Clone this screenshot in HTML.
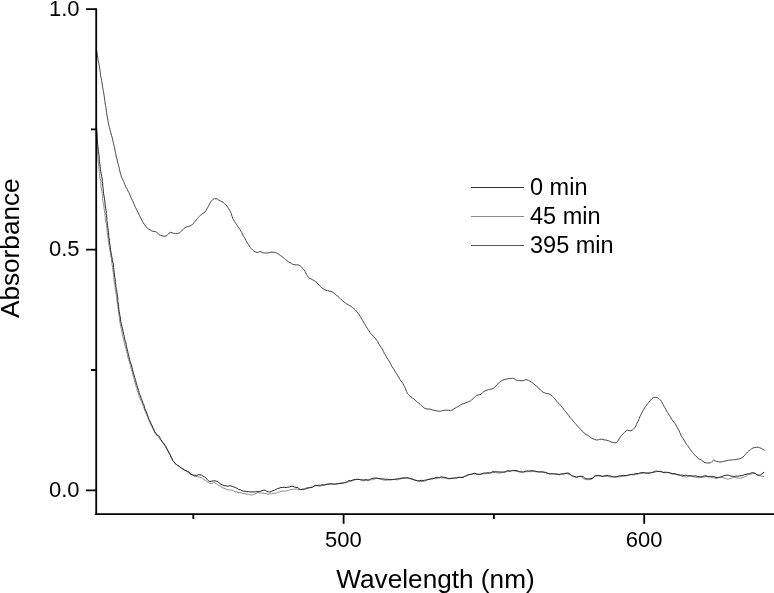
<!DOCTYPE html>
<html><head><meta charset="utf-8"><title>Absorbance vs Wavelength</title>
<style>
html,body{margin:0;padding:0;background:#fff;}
body{width:774px;height:593px;overflow:hidden;position:relative;}
svg{display:block;position:absolute;left:0;top:0;}
text{font-family:"Liberation Sans",Arial,Helvetica,sans-serif;fill:#000;}
.tick{font-size:22px;}
.title{font-size:26.2px;}
.leg{font-size:23.5px;}
</style></head><body>
<svg width="774" height="593" viewBox="0 0 774 593">
<rect width="774" height="593" fill="#fff"/>
<g fill="none" stroke-linejoin="round" stroke-linecap="butt" stroke-width="1">
<path d="M96.00,126.00 L96.06,125.92 L96.40,127.58 L96.48,129.28 L96.58,130.97 L96.59,132.67 L96.85,134.37 L96.91,136.07 L97.01,137.76 L97.12,139.46 L97.18,141.16 L97.22,142.86 L97.25,144.56 L97.36,146.26 L97.32,147.96 L97.45,149.65 L97.85,151.34 L97.62,153.05 L97.75,154.74 L97.91,156.44 L97.94,158.14 L98.05,159.83 L98.19,161.53 L98.45,163.21 L98.55,164.91 L98.88,166.58 L98.79,168.30 L99.16,169.97 L99.32,171.67 L99.47,173.36 L99.63,175.05 L99.86,176.74 L100.00,178.43 L100.66,180.06 L100.70,181.77 L100.83,183.47 L101.03,185.16 L101.01,186.87 L101.40,188.54 L101.60,190.22 L102.04,191.88 L102.10,193.59 L102.46,195.25 L102.75,196.93 L102.53,198.68 L102.74,200.36 L103.04,202.04 L103.28,203.72 L103.71,205.38 L103.99,207.05 L104.07,208.76 L104.53,210.41 L104.59,212.12 L104.98,213.78 L105.06,215.49 L105.37,217.16 L105.28,218.89 L105.45,220.58 L105.84,222.24 L106.32,223.89 L106.54,225.58 L106.68,227.28 L106.98,228.95 L107.09,230.65 L107.18,232.36 L107.47,234.03 L107.78,235.71 L107.90,237.41 L108.22,239.08 L108.35,240.78 L108.69,242.44 L108.73,244.16 L109.12,245.82 L109.53,247.47 L109.72,249.16 L110.04,250.84 L110.37,252.51 L110.56,254.20 L110.68,255.90 L111.24,257.53 L111.38,259.23 L111.60,260.92 L111.83,262.60 L111.96,264.30 L112.41,265.95 L112.51,267.66 L112.79,269.33 L113.00,271.02 L113.27,272.70 L113.53,274.38 L113.80,276.06 L113.93,277.76 L113.91,279.48 L114.14,281.16 L114.39,282.84 L114.67,284.52 L115.06,286.18 L115.23,287.87 L115.26,289.59 L115.81,291.23 L115.95,292.92 L116.13,294.62 L116.44,296.29 L116.66,297.98 L116.82,299.67 L116.92,301.37 L117.21,303.05 L117.43,304.73 L117.82,306.39 L118.05,308.08 L118.34,309.75 L118.57,311.44 L118.86,313.11 L118.97,314.81 L119.03,316.52 L119.37,318.19 L119.60,319.87 L119.81,321.56 L120.13,323.23 L120.33,324.92 L120.68,326.59 L121.23,328.22 L121.66,329.86 L121.82,331.56 L122.11,333.24 L122.37,334.93 L122.82,336.57 L123.24,338.22 L123.89,339.81 L124.00,341.53 L124.57,343.14 L124.79,344.84 L125.40,346.44 L125.85,348.08 L126.17,349.75 L126.61,351.39 L127.09,353.03 L127.31,354.72 L127.67,356.39 L128.10,358.03 L128.64,359.65 L129.19,361.26 L129.65,362.90 L130.10,364.53 L130.50,366.19 L130.81,367.87 L131.33,369.48 L131.92,371.08 L132.42,372.71 L132.64,374.41 L133.14,376.04 L133.62,377.67 L134.08,379.31 L134.49,380.96 L134.98,382.59 L135.29,384.26 L135.73,385.90 L136.72,387.39 L137.09,389.05 L137.09,390.84 L138.00,392.33 L138.53,393.94 L138.95,395.60 L139.61,397.17 L140.04,398.82 L140.95,400.30 L141.71,401.82 L142.24,403.44 L142.89,405.01 L143.59,406.56 L144.00,408.23 L144.57,409.83 L145.22,411.40 L145.93,412.95 L146.51,414.55 L147.19,416.11 L147.97,417.62 L148.50,419.25 L149.12,420.83 L149.81,422.38 L150.41,423.98 L151.36,425.41 L152.06,426.96 L152.87,428.45 L153.41,430.10 L154.28,431.56 L154.96,433.16 L155.92,434.59 L157.24,435.74 L158.53,436.89 L159.41,438.36 L160.47,439.69 L161.47,441.06 L162.62,442.33 L163.42,443.85 L164.38,445.25 L165.29,446.69 L166.21,448.11 L167.31,449.44 L168.46,450.74 L169.08,452.35 L169.82,453.89 L170.53,455.43 L171.04,457.08 L171.87,458.56 L172.46,460.20 L173.50,461.58 L174.55,462.95 L175.78,464.15 L177.08,465.28 L178.75,465.87 L179.94,467.13 L181.39,468.04 L182.99,468.68 L184.32,469.76 L185.76,470.68 L187.07,471.78 L188.45,472.71 L189.85,473.67 L191.55,474.20 L192.76,475.52 L194.41,476.30 L196.12,476.54 L197.81,476.69 L199.34,477.22 L201.05,477.45 L202.38,478.50 L203.77,479.46 L205.29,480.29 L206.54,481.43 L208.00,482.33 L209.58,483.21 L211.31,483.43 L213.07,482.88 L214.89,482.82 L216.41,483.79 L217.82,484.80 L219.28,485.71 L220.75,486.53 L222.05,487.59 L223.61,488.14 L225.18,488.67 L226.72,489.46 L228.38,489.82 L230.10,489.93 L231.81,490.13 L233.42,490.70 L234.91,491.70 L236.64,491.82 L238.17,492.68 L239.93,492.65 L241.60,493.00 L243.21,493.60 L244.93,493.66 L246.58,494.07 L248.32,494.07 L249.92,494.71 L251.62,495.13 L253.29,494.61 L254.92,494.13 L256.44,493.35 L257.90,492.28 L259.82,493.05 L261.40,493.05 L263.08,493.32 L264.75,493.51 L266.45,493.69 L268.07,494.49 L269.86,493.74 L271.54,493.69 L273.21,493.46 L274.88,493.21 L276.60,493.09 L278.19,492.43 L279.76,491.72 L281.40,491.23 L283.14,491.20 L284.86,491.07 L286.53,490.73 L288.24,490.54 L289.77,489.70 L291.45,489.54 L293.09,489.35 L294.77,489.11 L296.48,489.00 L298.12,489.56 L299.84,489.47 L301.52,489.41 L303.16,489.00 L304.95,489.30 L306.57,488.75 L308.17,488.13 L309.79,487.62 L311.41,487.11 L313.08,486.74 L314.68,485.95 L316.38,485.66 L318.12,485.96 L319.85,486.22 L321.49,485.63 L323.17,485.42 L324.79,484.89 L326.35,483.97 L328.10,483.93 L329.83,483.71 L331.56,484.24 L333.26,484.26 L334.95,484.31 L336.60,483.79 L338.30,483.79 L339.86,483.02 L341.60,483.01 L343.37,483.12 L344.91,482.28 L346.64,482.19 L348.37,482.08 L349.95,481.39 L351.66,481.17 L353.24,480.53 L354.83,479.91 L356.53,479.22 L358.31,479.39 L360.00,479.55 L361.57,480.73 L363.27,480.73 L364.98,480.63 L366.67,480.20 L368.41,480.72 L369.99,479.89 L371.75,479.81 L373.40,479.38 L374.93,478.78 L376.59,478.35 L378.29,478.54 L380.03,478.55 L381.61,479.27 L383.24,479.99 L384.94,480.15 L386.66,480.31 L388.37,479.89 L390.08,479.92 L391.75,479.48 L393.44,479.30 L395.16,479.44 L396.92,479.91 L398.57,479.42 L400.25,479.13 L401.91,478.41 L403.62,478.60 L405.33,478.39 L407.06,478.19 L408.80,478.18 L410.46,478.82 L412.13,479.22 L413.71,479.93 L415.39,480.18 L417.06,480.53 L418.65,481.29 L420.37,481.52 L422.15,481.47 L423.90,481.39 L425.52,480.74 L427.05,479.86 L428.66,479.27 L430.30,478.65 L432.05,478.78 L433.74,478.57 L435.45,478.63 L437.18,478.62 L438.78,477.94 L440.46,477.65 L442.15,477.86 L443.79,477.89 L445.38,478.46 L447.08,478.69 L448.80,478.70 L450.47,478.81 L452.06,478.22 L453.82,478.41 L455.46,477.97 L457.22,478.13 L458.82,477.38 L460.52,477.24 L462.21,477.07 L463.86,476.64 L465.54,476.36 L467.11,475.65 L468.68,474.95 L470.29,474.30 L472.01,474.04 L473.74,473.82 L475.47,474.15 L477.17,474.35 L478.86,474.48 L480.49,474.44 L482.09,473.87 L483.78,473.78 L485.51,473.73 L487.12,473.07 L488.83,472.94 L490.57,473.03 L492.23,472.60 L493.93,472.56 L495.62,472.31 L497.35,472.97 L499.05,472.98 L500.76,472.89 L502.43,472.22 L504.14,472.14 L505.81,471.75 L507.50,471.58 L509.16,471.14 L510.85,471.00 L512.51,470.54 L514.23,470.66 L515.81,471.33 L517.60,471.14 L519.32,471.28 L520.89,471.92 L522.58,472.27 L524.27,471.95 L525.98,471.90 L527.67,471.70 L529.36,471.57 L531.04,471.74 L532.72,471.32 L534.40,471.60 L536.09,471.72 L537.81,471.66 L539.47,472.10 L541.21,471.94 L542.93,471.92 L544.53,472.74 L546.26,472.66 L547.85,473.52 L549.51,473.90 L551.25,473.77 L552.97,473.74 L554.73,473.46 L556.36,474.05 L558.10,474.07 L559.67,475.02 L561.28,474.31 L562.96,474.11 L564.61,473.18 L566.35,473.41 L568.06,474.09 L569.74,474.35 L571.32,475.03 L572.80,475.81 L574.23,476.76 L575.77,477.61 L577.51,477.47 L578.99,476.47 L580.81,476.51 L582.32,477.34 L583.39,478.74 L585.15,479.33 L586.86,479.69 L588.58,479.65 L590.31,479.58 L592.03,479.12 L593.14,477.65 L594.44,476.57 L595.99,475.74 L597.73,475.66 L599.44,475.89 L601.10,476.33 L602.82,476.33 L604.45,476.49 L605.97,476.20 L607.51,476.47 L609.20,476.88 L610.91,477.00 L612.63,476.93 L614.33,477.06 L616.04,477.11 L617.73,476.87 L619.46,476.89 L621.12,476.49 L622.82,476.44 L624.49,476.06 L626.19,475.96 L627.83,475.40 L629.50,475.05 L631.16,474.61 L632.92,474.94 L634.62,474.77 L636.28,474.40 L637.95,474.14 L639.58,473.54 L641.29,473.48 L642.98,473.27 L644.67,472.76 L646.37,472.94 L648.06,472.80 L649.79,473.29 L651.43,472.70 L653.05,472.19 L654.78,472.16 L656.44,471.82 L658.16,471.37 L659.83,471.79 L661.54,471.90 L663.11,472.81 L664.87,472.60 L666.57,472.73 L668.36,472.39 L669.99,472.94 L671.52,474.08 L673.22,474.23 L674.94,474.23 L676.58,474.73 L678.27,474.95 L679.94,475.25 L681.53,476.21 L683.21,476.63 L684.91,476.79 L686.61,476.97 L688.36,476.40 L690.13,475.92 L691.76,476.58 L693.43,476.93 L695.11,477.13 L696.80,477.34 L698.49,477.69 L700.21,477.69 L701.91,477.40 L703.59,477.16 L705.24,476.75 L706.93,476.52 L708.62,477.00 L710.32,476.90 L711.92,477.62 L713.50,477.84 L715.17,478.26 L717.05,478.51 L718.52,477.55 L720.16,477.21 L721.86,477.36 L723.51,477.77 L725.15,478.29 L726.77,479.04 L728.52,479.05 L730.24,478.53 L731.85,478.06 L733.40,477.27 L735.22,477.49 L736.91,477.91 L738.58,478.18 L740.31,478.30 L742.05,477.96 L743.60,477.24 L745.15,476.56 L746.64,475.71 L747.99,474.61 L749.68,474.24 L751.36,474.00 L752.91,473.09 L754.63,473.43 L756.28,474.08 L757.57,475.21 L759.19,475.57 L760.85,476.02 L762.42,476.47 L764.30,476.50" stroke="#8a8a8a"/>
<path d="M96.00,126.00 L96.35,125.87 L96.40,127.58 L96.73,129.25 L96.74,130.96 L96.95,132.65 L97.11,134.34 L97.01,136.05 L97.21,137.74 L97.39,139.43 L97.46,141.13 L97.52,142.83 L97.73,144.52 L97.84,146.22 L98.14,147.90 L98.29,149.59 L98.45,151.28 L98.71,152.97 L98.95,154.65 L99.16,156.34 L99.20,158.04 L99.32,159.74 L99.50,161.43 L99.64,163.12 L100.01,164.79 L100.15,166.48 L100.30,168.18 L100.43,169.88 L100.82,171.54 L101.07,173.22 L101.52,174.87 L101.68,176.57 L102.09,178.23 L102.31,179.91 L102.23,181.64 L102.72,183.29 L102.70,185.01 L102.85,186.70 L103.12,188.38 L103.27,190.08 L103.43,191.77 L103.56,193.47 L103.87,195.14 L104.18,196.82 L104.43,198.50 L104.71,200.18 L104.83,201.87 L105.08,203.56 L105.09,205.27 L105.54,206.93 L105.77,208.61 L105.97,210.30 L106.30,211.97 L106.09,213.71 L106.60,215.36 L106.70,217.06 L106.88,218.75 L106.81,220.47 L107.31,222.12 L107.30,223.84 L107.60,225.51 L107.79,227.20 L108.05,228.88 L108.13,230.59 L108.48,232.26 L108.63,233.95 L108.77,235.65 L108.76,237.36 L109.38,239.00 L109.32,240.72 L109.48,242.41 L109.85,244.08 L110.06,245.76 L110.38,247.44 L110.41,249.15 L110.72,250.82 L111.07,252.49 L111.38,254.16 L111.66,255.84 L111.94,257.51 L112.31,259.18 L112.26,260.91 L112.86,262.53 L113.50,264.16 L113.51,265.87 L113.64,267.57 L113.76,269.27 L114.01,270.96 L114.25,272.64 L114.43,274.33 L114.56,276.03 L114.92,277.70 L115.20,279.37 L115.18,281.09 L115.46,282.77 L115.89,284.43 L115.82,286.15 L116.08,287.83 L116.49,289.49 L116.87,291.16 L116.98,292.86 L117.26,294.54 L117.52,296.22 L117.76,297.90 L117.89,299.60 L117.85,301.31 L118.13,302.99 L118.50,304.66 L118.55,306.36 L118.78,308.05 L118.92,309.75 L119.08,311.44 L119.46,313.10 L119.78,314.78 L120.07,316.45 L120.50,318.10 L120.63,319.80 L120.76,321.51 L121.14,323.17 L121.55,324.82 L121.92,326.48 L122.35,328.13 L122.74,329.78 L123.07,331.45 L123.47,333.10 L123.81,334.77 L124.32,336.39 L124.50,338.09 L124.83,339.76 L125.36,341.39 L125.97,342.99 L126.17,344.69 L126.32,346.40 L126.85,348.02 L127.29,349.66 L127.73,351.30 L127.99,352.99 L128.55,354.60 L128.78,356.30 L129.29,357.92 L129.59,359.60 L130.08,361.23 L130.59,362.85 L131.25,364.44 L131.69,366.08 L132.09,367.73 L132.39,369.41 L132.84,371.05 L133.43,372.65 L133.80,374.31 L134.14,375.98 L134.71,377.59 L135.27,379.20 L135.76,380.83 L136.06,382.51 L136.46,384.16 L137.10,385.75 L137.48,387.41 L138.05,389.01 L138.66,390.60 L138.95,392.29 L139.45,393.92 L140.23,395.45 L140.79,397.05 L141.31,398.67 L142.04,400.22 L142.62,401.81 L143.08,403.46 L143.97,404.94 L144.38,406.60 L144.81,408.25 L145.35,409.87 L146.19,411.37 L146.66,413.01 L147.38,414.55 L147.84,416.20 L148.39,417.81 L149.06,419.37 L149.88,420.87 L150.60,422.41 L151.09,424.05 L151.98,425.51 L152.59,427.10 L153.30,428.65 L154.22,430.09 L154.71,431.78 L155.86,433.08 L156.61,434.65 L158.21,435.59 L159.55,436.71 L160.17,438.37 L161.00,439.86 L162.03,441.21 L162.97,442.63 L164.20,443.86 L165.06,445.33 L165.99,446.76 L166.76,448.29 L167.37,449.90 L168.19,451.38 L168.92,452.92 L169.82,454.37 L170.61,455.88 L171.30,457.43 L172.14,458.91 L172.77,460.52 L173.98,461.74 L174.76,463.35 L176.30,464.21 L177.48,465.47 L179.06,466.18 L180.20,467.52 L181.70,468.35 L183.16,469.24 L184.58,470.18 L186.20,470.78 L187.79,471.48 L189.38,472.24 L190.30,473.79 L191.79,474.60 L193.32,475.08 L194.97,475.26 L196.73,475.70 L198.32,474.74 L200.04,474.83 L201.74,475.14 L203.03,476.28 L204.66,476.93 L205.96,478.06 L207.08,479.39 L208.28,480.66 L209.93,481.61 L211.76,481.12 L213.43,480.86 L215.12,480.87 L216.85,481.22 L218.42,482.00 L219.56,483.34 L220.98,484.26 L222.57,484.87 L224.07,485.76 L225.83,485.77 L227.50,486.13 L229.19,485.90 L230.87,485.88 L232.47,486.43 L234.07,487.00 L235.63,487.66 L237.20,488.32 L238.57,489.39 L240.26,489.78 L241.76,490.62 L243.43,491.15 L245.17,491.24 L246.83,491.66 L248.57,491.48 L250.21,492.06 L251.94,491.87 L253.62,491.83 L255.32,491.86 L257.04,491.74 L258.72,491.48 L260.38,491.24 L262.01,490.70 L263.65,490.13 L265.37,490.36 L266.62,491.33 L268.14,491.89 L269.81,491.99 L271.45,491.49 L272.96,490.63 L274.63,490.27 L276.05,489.29 L277.56,488.51 L279.29,488.18 L280.93,487.44 L282.66,487.56 L284.35,487.23 L286.06,487.57 L287.71,487.15 L289.41,487.02 L291.05,486.37 L292.81,486.39 L294.47,486.97 L296.08,487.46 L297.93,487.58 L299.09,488.89 L300.72,489.67 L302.40,489.28 L304.16,489.27 L305.67,488.35 L307.33,487.94 L309.06,487.81 L310.75,487.53 L312.39,487.17 L313.89,486.19 L315.52,485.41 L317.25,485.62 L318.93,485.18 L320.62,485.23 L322.24,484.76 L324.00,484.93 L325.70,484.71 L327.36,484.38 L328.99,484.03 L330.68,483.92 L332.38,483.85 L334.08,484.04 L335.79,484.02 L337.50,483.89 L339.13,483.38 L340.91,483.55 L342.53,482.99 L344.24,482.82 L345.93,482.50 L347.43,481.54 L348.95,480.63 L350.74,480.75 L352.33,480.13 L353.98,479.72 L355.65,479.36 L357.35,479.45 L359.09,479.39 L360.73,479.76 L362.42,479.83 L364.11,480.02 L365.81,479.46 L367.49,479.97 L369.19,479.88 L370.69,478.97 L372.29,478.43 L373.99,478.13 L375.73,478.08 L377.41,478.10 L379.01,478.74 L380.71,478.91 L382.44,478.84 L384.13,478.93 L385.80,479.40 L387.51,479.27 L389.20,479.58 L390.92,479.73 L392.63,479.58 L394.34,479.51 L396.00,479.04 L397.67,478.79 L399.36,478.46 L401.05,478.25 L402.73,477.85 L404.45,477.91 L406.16,477.81 L407.89,477.73 L409.59,478.28 L411.22,478.87 L412.89,479.17 L414.46,479.97 L416.12,480.39 L417.76,480.82 L419.53,480.71 L421.22,480.33 L422.92,480.52 L424.60,480.26 L426.29,479.99 L427.93,479.56 L429.62,479.41 L431.22,478.83 L432.92,478.73 L434.57,478.17 L436.18,477.40 L437.87,477.36 L439.65,477.61 L441.23,476.76 L442.96,477.25 L444.67,477.35 L446.32,477.77 L447.94,478.28 L449.60,478.61 L451.27,478.26 L452.97,478.18 L454.66,478.02 L456.36,477.87 L457.98,477.25 L459.73,477.44 L461.47,477.48 L463.23,477.46 L464.71,476.22 L466.35,475.76 L467.82,474.74 L469.55,474.58 L471.25,474.36 L472.85,473.68 L474.63,473.27 L476.31,473.77 L477.96,474.31 L479.66,474.20 L481.33,474.13 L482.86,473.25 L484.55,473.07 L486.29,473.01 L488.00,472.87 L489.75,473.10 L491.37,472.36 L492.99,471.60 L494.74,471.90 L496.44,471.72 L498.15,471.86 L499.86,472.02 L501.57,471.99 L503.29,472.11 L505.01,472.01 L506.59,471.01 L508.29,470.84 L510.05,471.23 L511.69,470.61 L513.37,470.63 L515.03,470.49 L516.73,470.62 L518.26,471.49 L519.93,471.95 L521.69,471.85 L523.42,472.00 L525.07,471.28 L526.74,470.93 L528.47,471.10 L530.16,470.90 L531.87,470.54 L533.55,470.88 L535.23,471.14 L536.88,471.65 L538.55,471.95 L540.27,471.88 L541.99,471.92 L543.67,472.14 L545.36,472.34 L546.98,473.03 L548.62,473.53 L550.30,473.85 L552.01,473.86 L553.74,473.82 L555.39,474.23 L557.11,474.24 L558.79,474.55 L560.46,474.04 L562.07,473.79 L563.85,473.98 L565.49,473.42 L567.20,473.04 L568.98,473.44 L570.31,474.64 L571.68,475.72 L573.36,476.15 L575.00,476.67 L576.63,477.04 L578.22,476.57 L579.92,476.27 L581.66,476.28 L583.34,476.93 L584.64,477.91 L586.14,478.59 L587.76,478.85 L589.35,478.75 L590.99,478.65 L592.72,478.17 L593.84,476.79 L595.16,475.75 L596.85,475.70 L598.54,475.65 L600.27,475.57 L601.88,476.30 L603.62,476.11 L605.04,475.81 L606.79,475.30 L608.47,475.61 L610.09,475.98 L611.76,476.41 L613.44,476.90 L615.16,476.90 L616.87,476.65 L618.51,476.02 L620.21,475.90 L621.87,475.48 L623.58,475.41 L625.31,475.56 L626.99,475.30 L628.66,474.96 L630.32,474.53 L632.02,474.42 L633.71,474.28 L635.34,473.76 L637.00,473.40 L638.75,473.46 L640.39,472.76 L642.10,472.74 L643.80,472.52 L645.52,473.14 L647.22,473.15 L648.93,473.05 L650.63,472.82 L652.30,472.44 L653.95,471.99 L655.50,471.11 L657.26,471.20 L658.94,471.50 L660.69,471.29 L662.30,471.97 L663.95,472.41 L665.72,472.15 L667.39,472.46 L669.06,472.81 L670.74,473.07 L672.37,473.60 L674.11,473.56 L675.76,473.98 L677.40,474.46 L679.04,474.96 L680.74,475.13 L682.44,475.21 L684.11,475.59 L685.86,475.10 L687.51,475.74 L689.21,475.81 L690.94,475.70 L692.62,476.00 L694.36,475.88 L696.09,475.92 L697.67,476.50 L699.29,476.60 L701.01,476.88 L702.65,476.40 L704.31,475.91 L706.02,475.71 L707.75,476.43 L709.45,476.42 L711.16,476.38 L712.90,476.43 L714.61,476.87 L716.08,477.51 L717.71,477.49 L719.41,477.24 L721.09,476.90 L722.65,476.26 L724.23,475.56 L725.96,475.27 L727.75,475.05 L729.39,475.51 L730.97,476.16 L732.66,476.29 L734.34,476.53 L736.01,476.06 L737.73,476.25 L739.41,475.99 L741.08,475.69 L742.78,475.59 L744.37,474.69 L745.99,474.47 L747.52,473.86 L749.35,473.84 L750.89,473.14 L752.50,472.55 L754.10,473.00 L755.68,473.61 L756.97,474.81 L758.67,475.16 L760.33,475.15 L761.64,474.23 L762.74,472.97 L764.30,472.40" stroke="#222"/>
<path d="M96.20,49.00 L96.58,50.29 L96.84,51.97 L97.18,53.63 L97.43,55.31 L97.66,57.00 L97.94,58.68 L98.15,60.37 L98.56,62.02 L98.84,63.70 L99.17,65.36 L99.48,67.04 L99.74,68.72 L99.97,70.40 L100.21,72.09 L100.46,73.77 L100.60,75.47 L100.90,77.14 L101.36,78.79 L101.60,80.47 L101.91,82.14 L102.19,83.82 L102.33,85.52 L102.64,87.19 L103.06,88.85 L103.24,90.54 L103.50,92.22 L103.83,93.89 L104.11,95.56 L104.36,97.25 L104.58,98.93 L104.84,100.61 L105.07,102.30 L105.20,104.00 L105.57,105.66 L105.89,107.33 L106.14,109.01 L106.28,110.71 L106.59,112.38 L106.70,114.08 L107.07,115.75 L107.36,117.42 L107.60,119.11 L107.95,120.77 L108.31,122.43 L108.61,124.10 L108.95,125.77 L109.39,127.41 L109.86,129.05 L110.18,130.72 L110.66,132.35 L111.20,133.97 L111.57,135.63 L112.11,137.24 L112.49,138.90 L112.81,140.57 L113.21,142.22 L113.63,143.87 L113.95,145.54 L114.35,147.19 L114.74,148.85 L115.14,150.50 L115.35,152.19 L115.78,153.84 L116.05,155.52 L116.44,157.18 L116.88,158.82 L117.23,160.48 L117.64,162.14 L118.05,163.78 L118.58,165.41 L118.93,167.07 L119.26,168.74 L119.68,170.39 L120.07,172.04 L120.48,173.70 L121.03,175.31 L121.47,176.96 L122.28,178.48 L122.90,180.06 L123.77,181.53 L124.25,183.18 L124.94,184.73 L125.51,186.34 L126.36,187.82 L127.31,189.25 L127.86,190.87 L128.72,192.34 L129.50,193.86 L130.15,195.43 L130.75,197.03 L131.51,198.55 L132.18,200.11 L133.06,201.58 L133.53,203.23 L134.29,204.75 L135.02,206.29 L135.71,207.85 L136.46,209.37 L137.20,210.90 L138.04,212.38 L138.77,213.92 L139.46,215.48 L140.13,217.04 L140.98,218.52 L141.80,220.01 L142.62,221.50 L143.44,222.99 L144.35,224.42 L145.38,225.79 L146.49,227.07 L147.59,228.39 L149.01,229.34 L150.57,230.05 L151.98,231.16 L153.77,231.38 L155.36,231.62 L156.81,232.29 L158.11,233.40 L159.21,234.73 L160.77,235.45 L162.41,235.92 L164.10,236.28 L165.86,236.03 L167.35,235.15 L168.59,233.94 L169.58,232.58 L170.67,232.30 L172.30,232.84 L173.92,233.35 L175.60,233.65 L177.31,233.65 L178.97,233.21 L180.31,232.13 L181.64,231.04 L182.68,229.70 L183.84,228.48 L185.28,227.65 L186.77,226.89 L188.46,226.62 L190.05,225.95 L191.58,225.15 L192.75,223.89 L194.00,222.74 L195.00,221.35 L196.10,220.07 L197.17,218.75 L198.25,217.43 L199.48,216.26 L200.73,215.18 L201.89,213.93 L203.32,213.02 L204.79,212.14 L205.86,210.81 L206.60,209.26 L207.55,207.85 L208.33,206.34 L209.15,204.85 L209.91,203.34 L210.71,201.84 L211.88,200.59 L213.00,199.36 L214.41,198.52 L216.02,198.87 L217.66,199.00 L218.83,200.14 L220.36,200.87 L221.86,201.66 L223.32,202.53 L224.54,203.73 L225.87,204.77 L226.96,206.06 L227.92,207.45 L228.88,208.86 L229.72,210.34 L230.39,211.91 L231.18,213.43 L231.64,215.07 L232.21,216.68 L232.80,218.27 L233.52,219.81 L234.33,221.30 L235.31,222.69 L236.19,224.15 L237.32,225.44 L238.14,226.94 L239.19,228.28 L240.03,229.76 L240.95,231.19 L241.78,232.68 L242.60,234.17 L243.21,235.77 L244.16,237.19 L245.08,238.62 L245.83,240.15 L246.62,241.65 L247.47,243.13 L248.45,244.52 L249.39,245.93 L250.24,247.40 L251.46,248.60 L252.56,249.89 L253.82,251.05 L255.26,251.97 L256.88,252.40 L258.54,252.27 L259.95,251.45 L261.44,251.96 L262.94,252.77 L264.60,252.97 L266.28,253.03 L267.98,253.00 L269.60,252.54 L271.25,252.11 L272.95,252.16 L274.58,252.44 L276.21,252.87 L277.71,253.66 L279.13,254.53 L280.46,255.56 L281.87,256.52 L283.28,257.49 L284.42,258.77 L285.75,259.82 L287.16,260.77 L288.51,261.81 L290.00,262.64 L291.51,263.40 L292.92,264.41 L294.65,264.65 L296.29,265.05 L297.91,264.69 L299.28,265.30 L300.62,266.25 L301.82,267.44 L303.05,268.62 L304.04,270.00 L305.09,271.37 L305.82,272.91 L306.54,274.45 L307.38,275.91 L308.45,277.23 L309.64,278.45 L311.26,279.03 L312.74,279.86 L314.27,280.61 L315.67,281.59 L316.94,282.73 L317.97,284.10 L319.33,285.15 L320.39,286.50 L321.59,287.72 L323.01,288.69 L324.47,289.57 L326.03,290.24 L327.61,290.62 L329.23,291.17 L331.00,291.21 L332.42,292.17 L333.90,293.03 L335.08,294.29 L336.44,295.30 L337.89,296.22 L339.13,297.39 L340.28,298.65 L341.46,299.87 L342.77,300.95 L344.05,302.06 L345.45,303.01 L346.84,303.98 L348.32,304.83 L349.77,305.71 L351.27,306.51 L352.61,307.56 L353.99,308.56 L355.23,309.73 L356.33,311.03 L357.38,312.37 L358.39,313.74 L359.54,315.01 L360.28,316.57 L361.17,318.02 L361.97,319.51 L362.95,320.91 L363.75,322.41 L364.64,323.86 L365.53,325.31 L366.23,326.87 L367.23,328.26 L368.07,329.74 L369.19,331.03 L370.05,332.50 L371.10,333.83 L372.28,335.06 L373.40,336.34 L374.65,337.51 L375.70,338.86 L376.61,340.32 L377.79,341.58 L378.47,343.17 L379.25,344.69 L380.22,346.09 L381.20,347.48 L382.10,348.93 L382.97,350.39 L383.79,351.88 L384.35,353.52 L385.39,354.88 L386.16,356.40 L386.93,357.92 L387.95,359.29 L388.84,360.74 L389.62,362.25 L390.57,363.66 L391.31,365.21 L392.03,366.76 L393.03,368.14 L394.04,369.51 L394.85,371.01 L395.72,372.47 L396.70,373.87 L397.57,375.33 L398.43,376.79 L399.27,378.27 L400.10,379.76 L401.12,381.13 L402.16,382.48 L403.15,383.87 L403.75,385.49 L404.65,386.93 L405.45,388.43 L405.94,390.08 L406.67,391.62 L407.34,393.21 L408.41,394.57 L409.63,395.78 L410.95,396.83 L412.30,397.88 L413.71,398.82 L415.05,399.84 L416.17,401.15 L417.41,402.29 L418.88,403.21 L420.12,404.38 L421.31,405.59 L422.66,406.63 L423.86,407.90 L425.51,408.58 L427.18,409.04 L428.90,409.04 L430.61,409.19 L432.20,409.82 L433.85,410.25 L435.51,410.62 L437.15,411.01 L438.84,411.22 L440.53,411.15 L442.20,410.83 L443.80,410.27 L445.48,410.20 L447.04,410.21 L448.76,410.14 L450.49,410.55 L452.17,410.05 L453.65,409.15 L455.07,408.24 L456.47,407.27 L458.09,406.68 L459.44,405.63 L460.88,404.67 L462.48,404.04 L464.10,403.51 L465.64,402.79 L467.22,402.18 L468.82,401.60 L470.40,400.97 L471.70,399.88 L473.00,398.79 L474.16,397.54 L475.35,396.34 L476.63,395.24 L478.32,394.88 L479.95,394.69 L481.40,393.78 L482.64,392.61 L483.95,391.51 L485.48,390.75 L487.09,390.18 L488.57,389.37 L490.15,389.23 L491.88,388.98 L493.50,388.23 L494.81,387.11 L496.07,385.96 L497.05,384.53 L498.33,383.41 L499.76,382.47 L500.92,381.20 L502.41,380.35 L503.98,379.70 L505.63,379.35 L507.28,379.06 L508.91,378.57 L510.58,378.61 L512.25,378.26 L513.96,378.52 L515.32,379.59 L516.86,380.37 L518.58,380.43 L520.27,380.70 L521.98,380.71 L523.70,380.56 L525.19,379.68 L526.89,379.84 L528.53,380.38 L529.99,381.29 L531.42,382.22 L532.85,383.15 L534.21,384.19 L535.40,385.42 L536.82,386.38 L538.13,387.46 L539.15,388.87 L540.49,389.93 L541.79,391.02 L543.01,392.22 L544.65,392.76 L546.17,393.52 L547.89,393.62 L549.51,394.20 L551.00,395.11 L552.32,396.20 L553.55,397.40 L554.58,398.77 L555.77,399.99 L556.80,401.35 L557.91,402.63 L559.21,403.76 L560.28,405.08 L561.42,406.35 L562.50,407.65 L563.53,409.01 L564.53,410.38 L565.55,411.75 L566.82,412.92 L567.79,414.31 L568.83,415.65 L569.68,417.16 L570.85,418.39 L571.96,419.68 L573.07,420.97 L574.11,422.32 L575.37,423.47 L576.48,424.76 L577.59,426.05 L578.71,427.33 L579.86,428.58 L581.04,429.80 L582.18,431.07 L583.50,432.14 L584.56,433.50 L585.95,434.50 L587.51,435.22 L588.90,436.18 L590.23,437.27 L591.68,438.15 L593.16,438.99 L594.81,439.32 L596.37,440.02 L598.07,439.89 L599.69,439.30 L601.43,439.16 L603.11,439.60 L604.76,439.94 L606.47,440.13 L608.09,440.64 L609.69,441.24 L611.22,442.04 L612.89,442.41 L614.56,442.82 L616.30,442.65 L617.49,441.47 L618.42,440.04 L619.31,438.60 L620.23,437.16 L621.25,435.79 L622.47,434.58 L623.53,433.26 L624.78,432.10 L626.03,430.99 L627.43,430.20 L629.02,430.54 L630.78,430.89 L632.33,430.06 L633.66,428.90 L634.89,427.61 L635.75,426.12 L636.42,424.54 L637.12,422.98 L637.85,421.45 L638.74,419.99 L639.27,418.36 L639.84,416.75 L640.61,415.23 L641.41,413.73 L642.13,412.19 L643.02,410.73 L643.86,409.26 L644.67,407.76 L645.54,406.30 L646.63,404.99 L647.69,403.67 L648.74,402.35 L649.66,400.93 L650.94,399.83 L652.09,398.57 L653.44,397.45 L655.19,397.28 L656.78,397.53 L658.25,398.26 L659.57,399.30 L660.72,400.38 L661.61,401.80 L662.49,403.26 L663.29,404.76 L664.06,406.28 L664.91,407.75 L665.89,409.16 L666.43,410.80 L667.43,412.19 L668.37,413.61 L669.18,415.10 L670.11,416.53 L671.00,417.98 L671.75,419.53 L672.75,420.92 L673.95,422.14 L674.96,423.50 L675.93,424.90 L676.65,426.44 L677.56,427.88 L678.37,429.37 L679.20,430.86 L679.79,432.47 L680.49,434.01 L681.23,435.55 L682.00,437.06 L683.01,438.45 L683.87,439.91 L684.82,441.32 L685.55,442.87 L686.46,444.31 L687.65,445.55 L688.56,446.99 L689.56,448.36 L690.56,449.74 L691.50,451.16 L692.61,452.45 L693.68,453.77 L694.80,455.05 L695.93,456.31 L697.18,457.44 L698.42,458.60 L699.98,459.28 L701.46,460.06 L702.86,461.05 L704.01,462.38 L705.71,462.78 L707.41,462.98 L709.13,463.05 L710.90,462.67 L712.13,461.43 L713.46,460.18 L715.12,460.89 L716.67,461.44 L718.35,461.65 L720.03,462.07 L721.73,461.78 L723.40,461.47 L725.03,460.96 L726.72,460.76 L728.35,460.25 L730.06,460.11 L731.74,459.92 L733.43,459.81 L735.13,459.71 L736.80,459.26 L738.46,459.09 L740.10,458.71 L741.56,457.87 L743.03,456.99 L744.31,455.84 L745.29,454.43 L746.51,453.25 L747.62,451.96 L748.88,450.83 L750.26,449.86 L751.54,448.73 L753.07,447.95 L754.73,447.54 L756.43,447.32 L758.18,447.17 L759.80,447.80 L761.37,448.44 L762.85,449.27 L764.60,450.30" stroke="#444"/>
</g>
<g stroke="#000" stroke-width="1.8" fill="none">
<path d="M96.2,8.2 V515.1"/>
<path d="M95.3,514.2 H774"/>
<path d="M86,9.1 H96 M86,249.7 H96 M86,490.3 H96"/>
<path d="M91,129.4 H96 M91,370 H96"/>
<path d="M343.6,514 V523.8 M644.2,514 V523.8"/>
<path d="M193.3,514 V519 M493.9,514 V519"/>
</g>
<g class="tick" text-anchor="end">
<text x="79.6" y="15.8">1.0</text>
<text x="79.6" y="256.2">0.5</text>
<text x="79.6" y="497">0.0</text>
</g>
<g class="tick" text-anchor="middle">
<text x="343.4" y="547.2">500</text>
<text x="644.2" y="547.2">600</text>
</g>
<text class="title" x="435.5" y="588" text-anchor="middle">Wavelength (nm)</text>
<text class="title" transform="translate(19.1,248.2) rotate(-90)" text-anchor="middle">Absorbance</text>
<g stroke-width="1" fill="none">
<path d="M471,187.5 H524" stroke="#2e2e2e"/>
<path d="M471,216.5 H524" stroke="#8c8c8c"/>
<path d="M471,245.5 H524" stroke="#555"/>
</g>
<g class="leg">
<text x="530" y="195.2">0 min</text>
<text x="530" y="224.2">45 min</text>
<text x="530" y="253.2">395 min</text>
</g>
</svg>
</body></html>
